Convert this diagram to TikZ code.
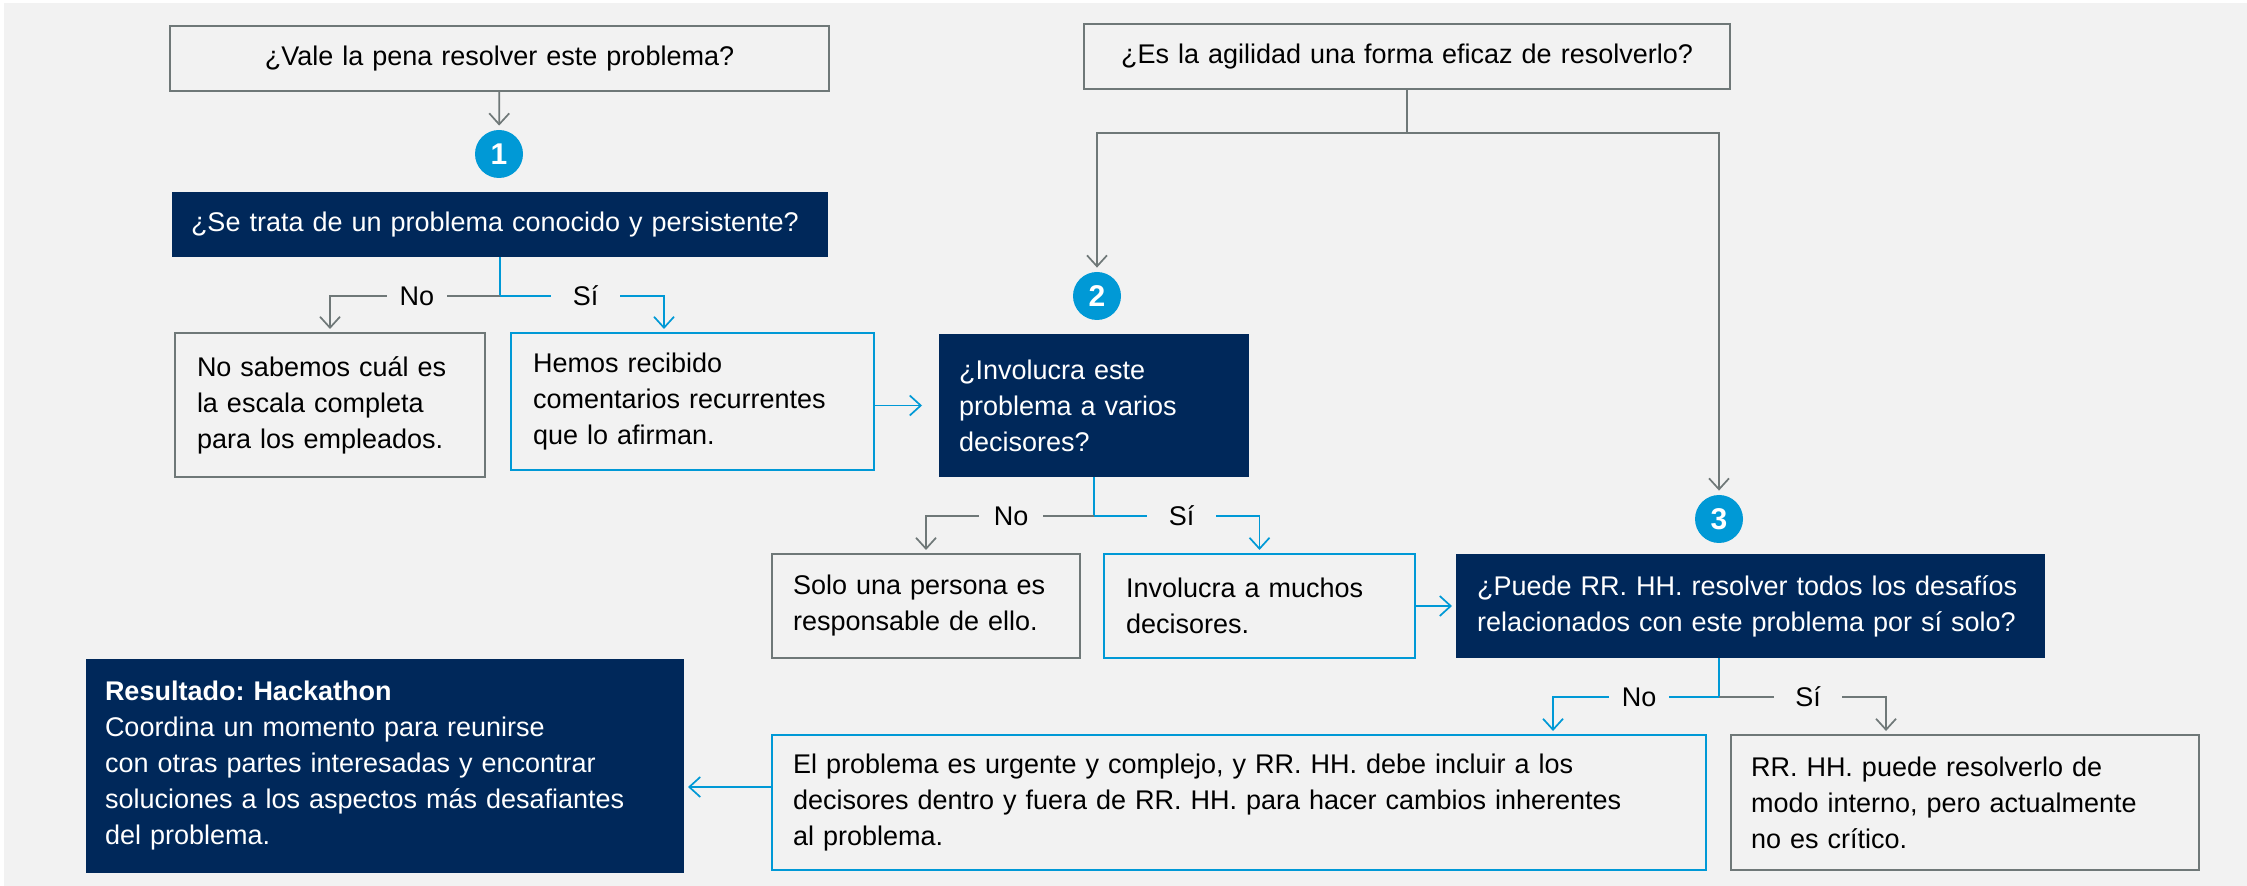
\documentclass[tikz,border=0pt]{standalone}
\usepackage{fontspec}
\setmainfont{Liberation Sans}
\usetikzlibrary{arrows.meta}
\frenchspacing

\definecolor{navy}{HTML}{00285A}
\definecolor{skyblue}{HTML}{0099D6}
\definecolor{linegrey}{HTML}{6F7878}
\definecolor{paper}{HTML}{F2F2F2}

\begin{document}
\begin{tikzpicture}[x=0.5pt, y=-0.5pt,
    box/.style={rectangle, anchor=north west, outer sep=0pt, inner ysep=0pt,
        align=left, font=\fontsize{13.5}{18}\selectfont},
    greybox/.style={box, draw=linegrey, line width=1pt},
    bluebox/.style={box, draw=skyblue, line width=1pt},
    navybox/.style={box, fill=navy, text=white},
    numdot/.style={circle, fill=skyblue, text=white, minimum size=24pt, inner sep=0pt,
        font=\fontsize{15}{15}\selectfont\bfseries},
    lbl/.style={inner sep=0pt, font=\fontsize{13.5}{16}\selectfont},
    greyline/.style={draw=linegrey, line width=0.85pt},
    blueline/.style={draw=skyblue, line width=0.85pt},
    greyarrow/.style={greyline, -{Straight Barb[length=5.5pt, width=10pt, line width=0.85pt]}, shorten >=2pt},
    bluearrow/.style={blueline, -{Straight Barb[length=5.5pt, width=10pt, line width=0.85pt]}, shorten >=2pt}]

    % Draw background
    \useasboundingbox (0,0) rectangle (2247,886);
    \fill[white] (0,0) rectangle (2247,886);
    \fill[paper] (4,3) rectangle (2247,886);

    % Draw questions at the top
    \node[greybox, minimum width=329.5pt, minimum height=32.5pt, text width=309.5pt, inner xsep=10pt, align=center]
        (worth) at (170,26) {¿Vale la pena resolver este problema?};
    \node[greybox, minimum width=323pt, minimum height=32.5pt, text width=303pt, inner xsep=10pt, align=center]
        (agile) at (1084,24) {¿Es la agilidad una forma eficaz de resolverlo?};

    % Draw numbered dots
    \foreach \n/\x/\y in {1/499/154, 2/1097/296, 3/1719/519}
        \node[numdot] (dot\n) at (\x,\y) {\n};

    % Draw step 1
    \node[navybox, minimum width=328pt, minimum height=32.5pt, text width=309pt, inner xsep=9.5pt]
        (known) at (172,192) {¿Se trata de un problema conocido y persistente?};
    \node[greybox, minimum width=155pt, minimum height=72pt, text width=133pt, inner xsep=11pt]
        (unknown) at (175,333) {No sabemos cuál es\\la escala completa\\para los empleados.};
    \node[bluebox, minimum width=181.5pt, minimum height=68.5pt, text width=159.5pt, inner xsep=11pt]
        (feedback) at (511,333) {Hemos recibido\\comentarios recurrentes\\que lo afirman.};

    % Draw step 2
    \node[navybox, minimum width=155pt, minimum height=71.5pt, text width=135pt, inner xsep=10pt]
        (many) at (939,334) {¿Involucra este\\problema a varios\\decisores?};
    \node[greybox, minimum width=154pt, minimum height=52pt, text width=133pt, inner xsep=10.5pt]
        (single) at (772,554) {Solo una persona es\\responsable de ello.};
    \node[bluebox, minimum width=155.5pt, minimum height=52pt, text width=133.5pt, inner xsep=11pt]
        (several) at (1104,554) {Involucra a muchos\\decisores.};

    % Draw step 3
    \node[navybox, minimum width=294.5pt, minimum height=52pt, text width=273.5pt, inner xsep=10.5pt]
        (alone) at (1456,554) {¿Puede RR. HH. resolver todos los desafíos\\relacionados con este problema por sí solo?};
    \node[bluebox, minimum width=467pt, minimum height=67.5pt, text width=446pt, inner xsep=10.5pt]
        (urgent) at (772,735) {El problema es urgente y complejo, y RR. HH. debe incluir a los\\decisores dentro y fuera de RR. HH. para hacer cambios inherentes\\al problema.};
    \node[greybox, minimum width=234pt, minimum height=67.5pt, text width=214pt, inner xsep=10pt]
        (inhouse) at (1731,735) {RR. HH. puede resolverlo de\\modo interno, pero actualmente\\no es crítico.};
    \node[navybox, minimum width=299pt, minimum height=107pt, text width=280pt, inner xsep=9.5pt]
        (hackathon) at (86,659) {\textbf{Resultado: Hackathon}\\Coordina un momento para reunirse\\con otras partes interesadas y encontrar\\soluciones a los aspectos más desafiantes\\del problema.};

    % Draw branch labels
    \node[lbl, minimum width=30pt] (noA) at (417,296) {No};
    \node[lbl, minimum width=34.5pt] (siA) at (585.5,296) {Sí};
    \node[lbl, minimum width=32pt] (noB) at (1011,516) {No};
    \node[lbl, minimum width=34.5pt] (siB) at (1181.5,516) {Sí};
    \node[lbl, minimum width=30pt] (noC) at (1639,697) {No};
    \node[lbl, minimum width=34pt] (siC) at (1808,697) {Sí};

    % Draw split points and arrow ends
    \coordinate (splitA) at (known.south |- noA);
    \coordinate (splitB) at (many.south |- noB);
    \coordinate (splitC) at (dot3 |- noC);
    \coordinate (splitTop) at (1407,133);
    \coordinate (intoFeedback) at (664,333);
    \coordinate (intoUrgent) at (1553,735);
    \coordinate (intoInhouse) at (1886,735);
    \coordinate (outUrgent) at (772,787);

    % Draw connectors
    \draw[greyarrow] (worth) -- (dot1);
    \draw[greyline] (agile) -- (splitTop);
    \draw[greyarrow] (splitTop) -| (dot2);
    \draw[greyarrow] (splitTop) -| (dot3);

    \draw[blueline] (known.south) -- (splitA);
    \draw[greyline] (splitA) -- (noA.east);
    \draw[greyarrow] (noA.west) -| (unknown.north);
    \draw[blueline] (splitA) -- (siA.west);
    \draw[bluearrow] (siA.east) -| (intoFeedback);
    \draw[bluearrow, shorten >=8.5pt] (feedback.east |- many.west) -- (many.west);

    \draw[blueline] (many.south) -- (splitB);
    \draw[greyline] (splitB) -- (noB.east);
    \draw[greyarrow] (noB.west) -| (single.north);
    \draw[blueline] (splitB) -- (siB.west);
    \draw[bluearrow] (siB.east) -| (several.north);
    \draw[bluearrow] (several.east) -- (alone.west);

    \draw[blueline] (splitC |- alone.south) -- (splitC);
    \draw[blueline] (splitC) -- (noC.east);
    \draw[bluearrow] (noC.west) -| (intoUrgent);
    \draw[greyline] (splitC) -- (siC.west);
    \draw[greyarrow] (siC.east) -| (intoInhouse);
    \draw[bluearrow] (outUrgent) -- (hackathon.east |- outUrgent);
\end{tikzpicture}
\end{document}
